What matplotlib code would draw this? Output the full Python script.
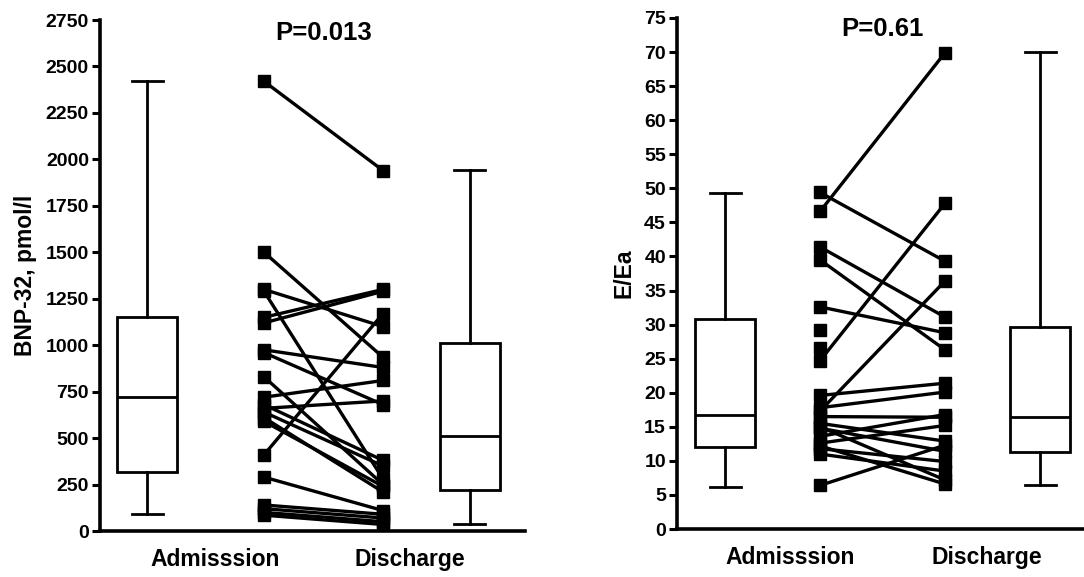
import numpy as np
import matplotlib
matplotlib.use("Agg")
import matplotlib.pyplot as plt

plt.rcParams['font.family'] = ['Liberation Sans', 'DejaVu Sans']
plt.rcParams['font.weight'] = 'bold'

# BNP-32 paired values (admission -> discharge)
bnp_adm = [2420, 1500, 1300, 1290, 1150, 1120, 975, 960, 830, 720, 680, 660,
           640, 610, 590, 410, 290, 140, 120, 100, 85]
bnp_dis = [1940, 935, 1100, 280, 1300, 1290, 880, 680, 250, 810, 380, 700,
           350, 210, 240, 1170, 110, 90, 70, 50, 35]
# box stats: min, q1, median, q3, max
bnp_box_adm = [90, 315, 720, 1152, 2420]
bnp_box_dis = [38, 221, 511, 1012, 1943]

# E/Ea paired values (nan = no discharge value)
ee_adm = [49.4, 46.6, 41.4, 39.5, 32.6, 29.2, 26.5, 24.7, 19.6, 17.8, 17.3,
          16.5, 15.5, 15.0, 14.8, 13.6, 12.6, 12.2, 11.8, 11.0, 6.4]
ee_dis = [39.3, 69.9, 31.1, 26.3, 28.8, np.nan, np.nan, 47.8, 21.4, 20.1, 36.4,
          16.4, 12.9, 7.2, 11.4, 16.8, 15.2, 6.6, 9.9, 8.5, 12.3]
ee_box_adm = [6.1, 12.1, 16.7, 30.8, 49.3]
ee_box_dis = [6.4, 11.3, 16.4, 29.7, 70.0]

group_labels = ['Admisssion', 'Discharge']
p_texts = ['P=0.013', 'P=0.61']
y_labels = ['BNP-32, pmol/l', 'E/Ea']


def stats(v):
    return dict(whislo=v[0], q1=v[1], med=v[2], q3=v[3], whishi=v[4], fliers=[])


def panel(ax, adm, dis, box_adm, box_dis, pos, label_pos, xmax, ylim, step,
          ylabel, ptext, ptext_y):
    lw_box = 2.0
    ax.bxp([stats(box_adm), stats(box_dis)], positions=[pos[0], pos[3]],
           widths=60, capwidths=31, patch_artist=True,
           boxprops=dict(facecolor='white', edgecolor='black', linewidth=lw_box),
           medianprops=dict(color='black', linewidth=lw_box),
           whiskerprops=dict(color='black', linewidth=lw_box),
           capprops=dict(color='black', linewidth=lw_box))
    for a, d in zip(adm, dis):
        if np.isnan(d):
            ax.plot([pos[1]], [a], 's', color='black', ms=8)
        else:
            ax.plot([pos[1], pos[2]], [a, d], '-s', color='black', lw=2.4, ms=8)
    ax.set_xlim(0, xmax)
    ax.set_ylim(*ylim)
    ax.set_yticks(np.arange(0, ylim[1] + 0.1, step))
    ax.set_xticks(label_pos)
    ax.set_xticklabels(group_labels, fontsize=16.5, fontweight='bold')
    ax.tick_params(axis='x', length=0, pad=12)
    ax.tick_params(axis='y', labelsize=14, width=2.2, length=6, direction='out', pad=2)
    for s in ['top', 'right']:
        ax.spines[s].set_visible(False)
    for s in ['left', 'bottom']:
        ax.spines[s].set_linewidth(2.6)
    ax.set_ylabel(ylabel, fontsize=16.5, fontweight='bold', labelpad=6)
    ax.text((pos[1] + pos[2]) / 2, ptext_y, ptext, ha='center', va='center',
            fontsize=18.5, fontweight='bold')


fig = plt.figure(figsize=(10.84, 5.77), dpi=100)
ax1 = fig.add_axes([100 / 1084, 46 / 577, 425 / 1084, 511 / 577])
ax2 = fig.add_axes([677 / 1084, 48 / 577, 407 / 1084, 511 / 577])

panel(ax1, bnp_adm, bnp_dis, bnp_box_adm, bnp_box_dis,
      [47, 164, 283, 370], [115, 310], 425, (0, 2750), 250,
      y_labels[0], p_texts[0], 2680)
panel(ax2, ee_adm, ee_dis, ee_box_adm, ee_box_dis,
      [48, 143, 268, 363], [113, 310], 407, (0, 75), 5,
      y_labels[1], p_texts[1], 73.4)

fig.savefig('out.png', dpi=100)
